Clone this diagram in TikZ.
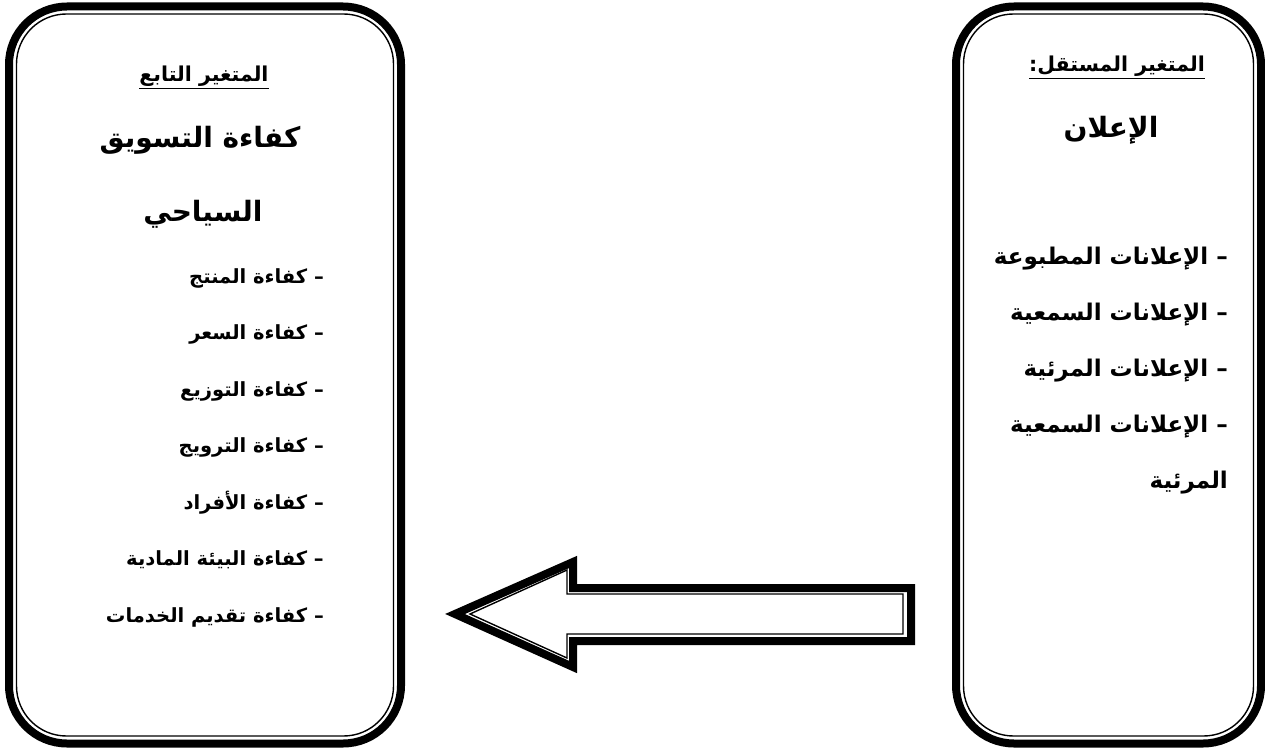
\documentclass[tikz,border=0pt]{standalone}
\usepackage{fontspec}
\usetikzlibrary{positioning}
\TeXXeTstate=1
\newfontfamily\arabicfont[Script=Arabic]{DejaVu Sans}

\begin{document}
\begin{tikzpicture}[
  x=1pt, y=-1pt,
  panel/.style    = {draw=black, line width=8pt, rounded corners=58pt,
                     inner sep=0pt},
  panelin/.style  = {draw=black, line width=1.4pt, rounded corners=50pt,
                     inner sep=0pt},
  vhead/.style    = {font=\arabicfont\bfseries\fontsize{20.5}{24}\selectfont,
                     inner sep=0pt, anchor=base},
  vtitle/.style   = {font=\arabicfont\bfseries\fontsize{28}{34}\selectfont,
                     inner sep=0pt, anchor=base},
  item/.style     = {font=\arabicfont\bfseries\fontsize{#1}{24}\selectfont,
                     inner sep=0pt, anchor=base east},
  flow/.style     = {draw=black, line join=miter, line width=#1},
]
\useasboundingbox (0,0) rectangle (1265,751);

% the two variable panels, thick frame with a thin one inside
\node[panel, minimum width=392pt, minimum height=737pt] (dep) at (205,375) {};
\node[panelin, minimum width=377pt, minimum height=722pt] (depin) at (dep.center) {};
\node[panel, minimum width=305pt, minimum height=737pt] (ind) at (1108.5,375) {};
\node[panelin, minimum width=290pt, minimum height=722pt] (indin) at (ind.center) {};

% dependent variable
\node[vhead] (dephead) at (204,82) {\underline{\beginR المتغير التابع\endR}};
\node[vtitle] (deptitle) at (200,148) {\beginR كفاءة التسويق\endR};
\node[vtitle] (deptitleb) at (203,222) {\beginR السياحي\endR};
\foreach \t [count=\i] in {كفاءة المنتج, كفاءة السعر, كفاءة التوزيع,
    كفاءة الترويج, كفاءة الأفراد, كفاءة البيئة المادية, كفاءة تقديم الخدمات}
  \node[item=19.5] (dep\i) at (324,283+56.5*\i-56.5) {\beginR – \t\endR};

% independent variable
\node[vhead] (indhead) at (1117,72) {\underline{\beginR المتغير المستقل:\endR}};
\node[vtitle] (indtitle) at (1111,138) {\beginR الإعلان\endR};
\foreach \t [count=\i] in {الإعلانات المطبوعة, الإعلانات السمعية,
    الإعلانات المرئية, الإعلانات السمعية}
  \node[item=23] (ind\i) at (1228,265+55.7*\i-55.7) {\beginR – \t\endR};
\node[item=23] (ind5) at (1228,488) {\beginR المرئية\endR};

% block arrow between the panels: thick outline, thin one inside
\coordinate (tip) at (455,614);
\draw[flow=8pt] (tip) -- (573,562) -- (573,588) -- (911,588)
  -- (911,641) -- (573,641) -- (573,667) -- cycle;
\draw[flow=1.4pt] (470,614) -- (567,570) -- (567,594) -- (903,594)
  -- (903,634) -- (567,634) -- (567,658) -- cycle;
\end{tikzpicture}
\end{document}
